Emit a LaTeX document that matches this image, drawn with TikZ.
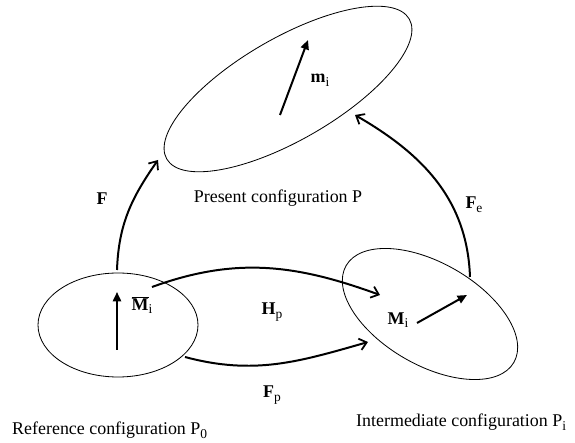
\documentclass[tikz,border=0pt]{standalone}
\usepackage{fontspec}
\setmainfont{Liberation Serif}
\usetikzlibrary{arrows.meta, positioning, shapes.geometric}
\newcommand{\lowsub}[1]{\raisebox{-0.45ex}{\fontsize{11.5}{12}\selectfont #1}}

\begin{document}
\begin{tikzpicture}[x=0.03cm, y=0.03cm, font=\fontsize{15.3}{18}\selectfont,
    config/.style={draw, ellipse, line width=0.7pt, inner sep=0pt},
    map/.style={-{Straight Barb[length=6pt, width=10pt, line width=1.5pt]}, line width=1.7pt},
    vec/.style={-{Triangle[length=8pt, width=7pt]}, line width=1.7pt}]
  \useasboundingbox (0,0) rectangle (575,443);
  % the three configurations
  \node[config, minimum width=8.4cm, minimum height=3.06cm, rotate=30] (pres) at (288,354) {};
  \node[config, minimum width=4.8cm, minimum height=3.12cm] (ref) at (118,118) {};
  \node[config, minimum width=5.81cm, minimum height=3.06cm, rotate=-30] (inter) at (430,129) {};
  \node[anchor=base] (presname) at (278,240) {Present configuration P};
  \node[anchor=base west, inner sep=0pt] (refname) at (12,8) {Reference configuration P\lowsub{0}};
  \node[anchor=base west, inner sep=0pt] (intername) at (356,16) {Intermediate configuration P\lowsub{i}};
  % vectors
  \coordinate (ms) at (280,328); \coordinate (me) at (308,403);
  \coordinate (Ms) at (117,93);  \coordinate (Me) at (117,151);
  \coordinate (Mis) at (417,120); \coordinate (Mie) at (467,148);
  \draw[vec] (ms) -- (me);
  \draw[vec] (Ms) -- (Me);
  \draw[vec] (Mis) -- (Mie);
  \node (mlab) at (320,363) {\textbf{m}\lowsub{i}};
  \node (Mlab) at (142,138) {$\overline{\textbf{M}}$\lowsub{i}};
  \node (Milab) at (398,123) {\textbf{M}\lowsub{i}};
  % mappings
  \coordinate (Fs) at (117,173);  \coordinate (Fe) at (158,283);
  \coordinate (Fes) at (470,166); \coordinate (Fee) at (355,328);
  \coordinate (Hs) at (152,156);  \coordinate (He) at (380,148);
  \coordinate (Fps) at (185,86);  \coordinate (Fpe) at (368,101);
  \draw[map] (Fs) to[out=88, in=235] (Fe);
  \draw[map] (Fes) to[out=92, in=-30] (Fee);
  \draw[map] (Hs) to[out=20, in=160] (He);
  \draw[map] (Fps) to[out=-15, in=196] (Fpe);
  \node (Flab) at (102,244) {\textbf{F}};
  \node (Felab) at (474,238) {\textbf{F}\lowsub{e}};
  \node (Hlab) at (272,131) {\textbf{H}\lowsub{p}};
  \node (Fplab) at (272,48) {\textbf{F}\lowsub{p}};
\end{tikzpicture}
\end{document}
